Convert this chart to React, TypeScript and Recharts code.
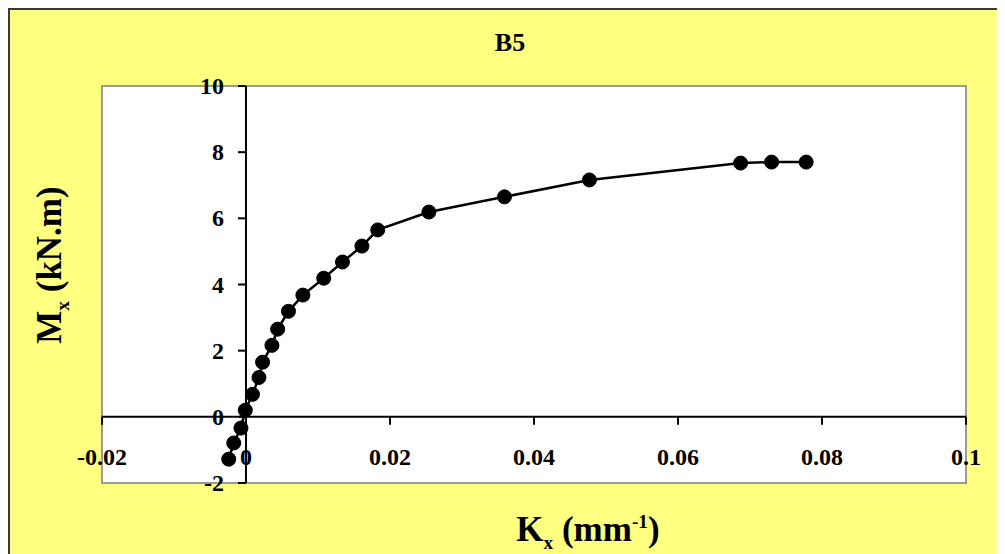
import { LineChart, Line, XAxis, YAxis, ReferenceArea, ReferenceLine } from "recharts"

// curvature K_x (mm^-1) and moment M_x (kN.m)
const curvature = [
  -0.0024, -0.0017, -0.0007, -0.0001, 0.0009, 0.0018, 0.0023, 0.0036, 0.0044, 0.0059, 0.0079,
  0.0108, 0.0134, 0.0161, 0.0183, 0.0254, 0.0359, 0.0477, 0.0687, 0.073, 0.0778,
]
const moment = [
  -1.28, -0.79, -0.34, 0.2, 0.68, 1.19, 1.65, 2.16, 2.65, 3.19, 3.68, 4.19, 4.68, 5.16, 5.65,
  6.19, 6.65, 7.16, 7.67, 7.7, 7.7,
]
const xTicks = [-0.02, 0, 0.02, 0.04, 0.06, 0.08, 0.1]
const yTicks = [-2, 0, 2, 4, 6, 8, 10]
const xDomain: [number, number] = [-0.02, 0.1]
const yDomain: [number, number] = [-2, 10]

const W = 997
const H = 546
const AXIS = 10
const M = { top: 78, right: 39, bottom: 71 - AXIS, left: 94 - AXIS }
const plotLeft = M.left + AXIS
const plotW = W - plotLeft - M.right
const plotH = H - M.top - M.bottom - AXIS
// where the axes cross (x = 0, y = 0) in chart pixels
const X0 = plotLeft + (plotW * (0 - xDomain[0])) / (xDomain[1] - xDomain[0])
const Y0 = M.top + (plotH * (yDomain[1] - 0)) / (yDomain[1] - yDomain[0])

const serif = "'Liberation Serif', 'Times New Roman', serif"
const tickFont = { fontFamily: serif, fontWeight: 700, fontSize: 24, fill: "#000" }

const data = curvature.map((k, i) => ({ k, m: moment[i] }))

const renderXTick = (props: any) => {
  const { x, payload } = props
  return (
    <g key={`xt-${payload.value}`}>
      <line x1={x} x2={x} y1={Y0} y2={Y0 + 8} stroke="#000" strokeWidth={2} />
      <text x={x} y={Y0 + 40} textAnchor="middle" dominantBaseline="central" {...tickFont}>
        {String(payload.value)}
      </text>
    </g>
  )
}

const renderYTick = (props: any) => {
  const { y, payload } = props
  return (
    <g key={`yt-${payload.value}`}>
      <line x1={X0 - 8} x2={X0} y1={y} y2={y} stroke="#000" strokeWidth={2} />
      <text x={X0 - 22} y={y} textAnchor="end" dominantBaseline="central" {...tickFont}>
        {String(payload.value)}
      </text>
    </g>
  )
}

export default function App() {
  return (
    <div
      style={{
        position: "relative",
        width: W,
        height: H,
        background: "#FFFF80",
        boxShadow: "inset 2px 2px 0 #3a3a3a",
        fontFamily: serif,
      }}
    >
      <style>{"html,body{overflow:hidden}"}</style>
      <LineChart width={W} height={H} data={data} margin={M}>
        <ReferenceArea
          x1={xDomain[0]}
          x2={xDomain[1]}
          y1={yDomain[0]}
          y2={yDomain[1]}
          fill="#fff"
          fillOpacity={1}
          stroke="#9a9a9a"
          strokeWidth={2}
        />
        <ReferenceLine y={0} stroke="#000" strokeWidth={2} />
        <ReferenceLine x={0} stroke="#000" strokeWidth={2} />
        <XAxis
          type="number"
          dataKey="k"
          domain={xDomain}
          ticks={xTicks}
          interval={0}
          allowDataOverflow
          axisLine={false}
          tickLine={false}
          height={AXIS}
          tick={renderXTick}
        />
        <YAxis
          type="number"
          domain={yDomain}
          ticks={yTicks}
          interval={0}
          allowDataOverflow
          axisLine={false}
          tickLine={false}
          width={AXIS}
          tick={renderYTick}
        />
        <Line
          dataKey="m"
          stroke="#000"
          strokeWidth={2.5}
          dot={{ r: 7, fill: "#000", stroke: "#000", strokeWidth: 1 }}
          activeDot={false}
          isAnimationActive={false}
        />
      </LineChart>

      <div
        style={{
          position: "absolute",
          left: 502,
          top: 35,
          transform: "translate(-50%, -50%)",
          fontWeight: 700,
          fontSize: 26,
          lineHeight: 1,
        }}
      >
        B5
      </div>
      <div
        style={{
          position: "absolute",
          left: 44,
          top: 257,
          transform: "translate(-50%, -50%) rotate(-90deg)",
          fontWeight: 700,
          fontSize: 35,
          lineHeight: 1,
          whiteSpace: "nowrap",
        }}
      >
        M<sub style={{ fontSize: "0.55em" }}>x</sub> (kN.m)
      </div>
      <div
        style={{
          position: "absolute",
          left: 580,
          top: 524,
          transform: "translate(-50%, -50%)",
          fontWeight: 700,
          fontSize: 35,
          lineHeight: 1,
          whiteSpace: "nowrap",
        }}
      >
        K<sub style={{ fontSize: "0.55em" }}>x</sub> (mm<sup style={{ fontSize: "0.55em" }}>-1</sup>)
      </div>
    </div>
  )
}
